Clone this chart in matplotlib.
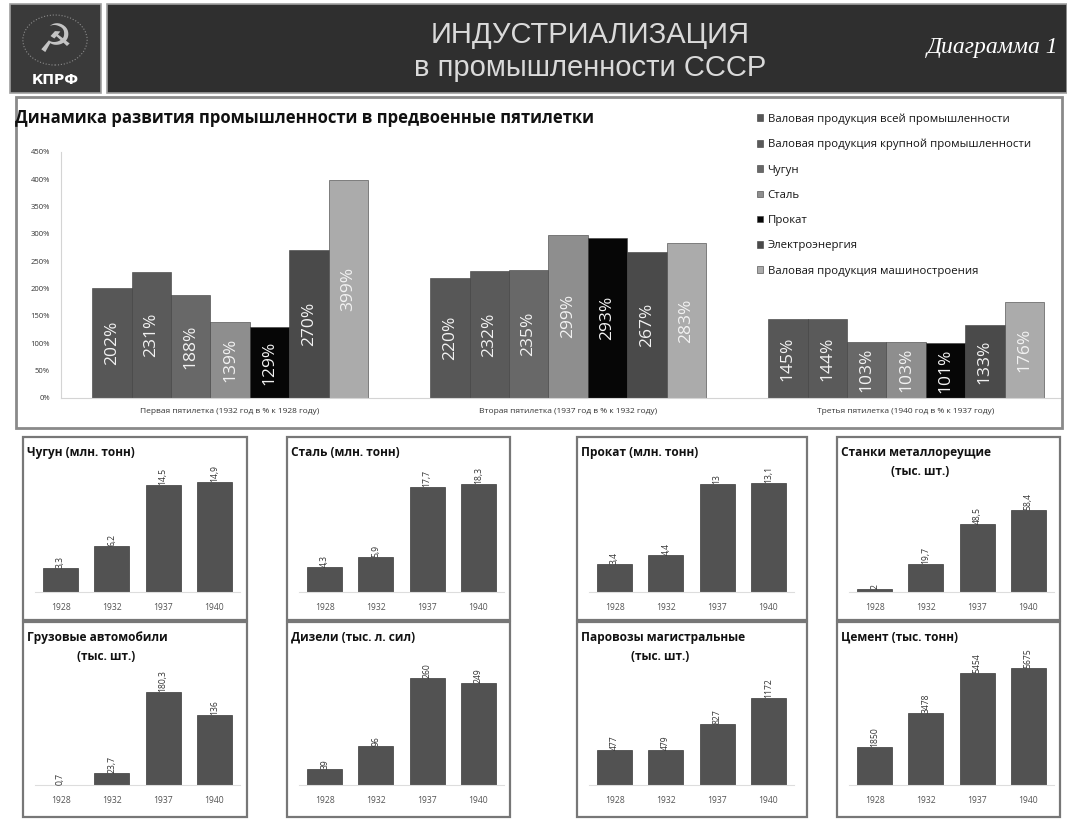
import numpy as np
import matplotlib
matplotlib.use('Agg')
import matplotlib.pyplot as plt
from matplotlib.patches import Rectangle, Circle

plt.rcParams['font.family'] = ['Open Sans', 'DejaVu Sans']

# ---- data: pre-war five-year plans, % growth ---------------------------------
periods = ['Первая пятилетка (1932 год в % к 1928 году)',
           'Вторая пятилетка (1937 год в % к 1932 году)',
           'Третья пятилетка (1940 год в % к 1937 году)']
series = ['Валовая продукция всей промышленности',
          'Валовая продукция крупной промышленности',
          'Чугун', 'Сталь', 'Прокат', 'Электроэнергия',
          'Валовая продукция машиностроения']
growth = [[202, 220, 145],
          [231, 232, 144],
          [188, 235, 103],
          [139, 299, 103],
          [129, 293, 101],
          [270, 267, 133],
          [399, 283, 176]]
series_colors = ['#575757', '#5a5a5a', '#686868', '#8e8e8e', '#060606', '#4a4a4a', '#ababab']

# ---- data: small panels -------------------------------------------------------
years = ['1928', '1932', '1937', '1940']
panel_titles = ['Чугун (млн. тонн)', 'Сталь (млн. тонн)', 'Прокат (млн. тонн)',
                'Станки металлореущие\n(тыс. шт.)',
                'Грузовые автомобили\n(тыс. шт.)', 'Дизели (тыс. л. сил)',
                'Паровозы магистральные\n(тыс. шт.)', 'Цемент (тыс. тонн)']
panel_values = [[3.3, 6.2, 14.5, 14.9],
                [4.3, 5.9, 17.7, 18.3],
                [3.4, 4.4, 13, 13.1],
                [2, 19.7, 48.5, 58.4],
                [0.7, 23.7, 180.3, 136],
                [39, 96, 260, 249],
                [477, 479, 827, 1172],
                [1850, 3478, 5454, 5675]]
# headroom above the tallest bar, per panel (layout only)
panel_headroom = [1.29, 1.31, 1.30, 1.73, 1.56, 1.36, 1.67, 1.24]

W, H = 1067, 830
fig = plt.figure(figsize=(W / 100, H / 100), dpi=100)


def fx(px):
    return px / W


def fy(py):
    return 1 - py / H


def frame(x0, y0, x1, y1, **kw):
    fig.add_artist(Rectangle((fx(x0), fy(y1)), fx(x1) - fx(x0), (y1 - y0) / H,
                             transform=fig.transFigure, **kw))


# ---- header --------------------------------------------------------------------
frame(10, 4, 101, 93, facecolor='#3a3a3a', edgecolor='#a0a0a0', lw=1.2)
frame(107, 4, 1067, 93, facecolor='#2f2f2f', edgecolor='#a0a0a0', lw=1.2)
fig.add_artist(Circle((fx(55), fy(40)), 25 / H, transform=fig.transFigure,
                      facecolor='none', edgecolor='#8c8c8c', lw=0.8, ls=':'))
fig.text(fx(55), fy(41), '☭', ha='center', va='center', fontsize=28,
         color='#c4c4c4', family='DejaVu Sans')
fig.text(fx(55), fy(80), 'КПРФ', ha='center', va='center', fontsize=10,
         fontweight='bold', color='white', family=['DejaVu Sans'])
fig.text(fx(590), fy(35), 'ИНДУСТРИАЛИЗАЦИЯ', ha='center', va='center',
         fontsize=21, color='#dadada', family=['Liberation Sans'])
fig.text(fx(590), fy(68), 'в промышленности СССР', ha='center', va='center',
         fontsize=21, color='#dadada', family=['Liberation Sans'])
fig.text(fx(1058), fy(48), 'Диаграмма 1', ha='right', va='center', fontsize=17,
         style='italic', color='white', family=['Liberation Serif'])

# ---- main chart ---------------------------------------------------------------
frame(16, 97, 1062, 428, facecolor='none', edgecolor='#8a8a8a', lw=2)
fig.text(fx(15), fy(118), 'Динамика развития промышленности в предвоенные пятилетки',
         ha='left', va='center', fontsize=12, fontweight='bold', color='#111111')

ax = fig.add_axes([fx(61), fy(398), fx(1062) - fx(61), (398 - 152) / H])
group = 338.0
bw = 39.4 / group
x = np.arange(len(periods))
handles = []
for i, (name, vals, col) in enumerate(zip(series, growth, series_colors)):
    pos = x + (i - 3) * bw
    b = ax.bar(pos, vals, width=bw, color=col, edgecolor='#3c3c3c', lw=0.4, label=name)
    handles.append(b)
    for p, v in zip(pos, vals):
        ax.text(p, v / 2, '%d%%' % v, rotation=90, ha='center', va='center',
                fontsize=12.5, color='#f2f2f2')
ax.set_xlim(-0.5, (1062 - 61) / group - 0.5)
ax.set_ylim(0, 450)
ax.set_yticks(range(0, 451, 50))
ax.set_yticklabels(['%d%%' % t for t in range(0, 451, 50)], fontsize=5.5, color='#333333')
ax.set_xticks(x)
ax.set_xticklabels(periods, fontsize=6, color='#333333')
ax.tick_params(axis='both', length=0)
ax.tick_params(axis='y', pad=8)
ax.tick_params(axis='x', pad=7)
for s in ['top', 'right']:
    ax.spines[s].set_visible(False)
ax.spines['left'].set_color('#d4d4d4')
ax.spines['bottom'].set_color('#d4d4d4')
ax.patch.set_alpha(0)

fig.legend(handles=handles, loc='upper left', bbox_to_anchor=(fx(747), fy(103)),
           frameon=False, fontsize=8.2, handlelength=0.5, handleheight=0.5,
           handletextpad=0.4, labelspacing=1.25, labelcolor='#151515')

# ---- small panels -------------------------------------------------------------
box_x = [(23, 247), (287, 510), (577, 807), (837, 1060)]
rows = [dict(top=437, bottom=620, base=592, axtop=450),
        dict(top=622, bottom=817, base=785, axtop=640)]
for k, (title, vals, head) in enumerate(zip(panel_titles, panel_values, panel_headroom)):
    r = rows[k // 4]
    L, R = box_x[k % 4]
    frame(L, r['top'], R, r['bottom'], facecolor='none', edgecolor='#777777', lw=1.6)
    a = fig.add_axes([fx(L + 12), fy(r['base']), 205 / W, (r['base'] - r['axtop']) / H])
    xs = np.arange(len(years))
    a.bar(xs, vals, width=0.68, color='#525252', edgecolor='#3a3a3a', lw=0.5)
    for xi, v in zip(xs, vals):
        a.text(xi, v, (('%g' % v).replace('.', ',')), rotation=90, ha='center',
               va='bottom', fontsize=6.2, color='#333333')
    a.set_xlim(-0.5, 3.5)
    a.set_ylim(0, max(vals) * head)
    a.set_yticks([])
    a.set_xticks(xs)
    a.set_xticklabels(years, fontsize=6.2, color='#555555')
    a.tick_params(axis='x', length=0, pad=8)
    for s in ['top', 'right', 'left']:
        a.spines[s].set_visible(False)
    a.spines['bottom'].set_color('#dddddd')
    a.patch.set_alpha(0)
    lines = title.split('\n')
    ty = r['top'] + 15
    fig.text(fx(L + 4), fy(ty), lines[0], ha='left', va='center', fontsize=8.6,
             fontweight='bold', color='#111111')
    if len(lines) > 1:
        fig.text(fx(L + 83), fy(ty + 19), lines[1], ha='center', va='center',
                 fontsize=8.6, fontweight='bold', color='#111111')

fig.savefig('out.png', dpi=100, facecolor='white')
